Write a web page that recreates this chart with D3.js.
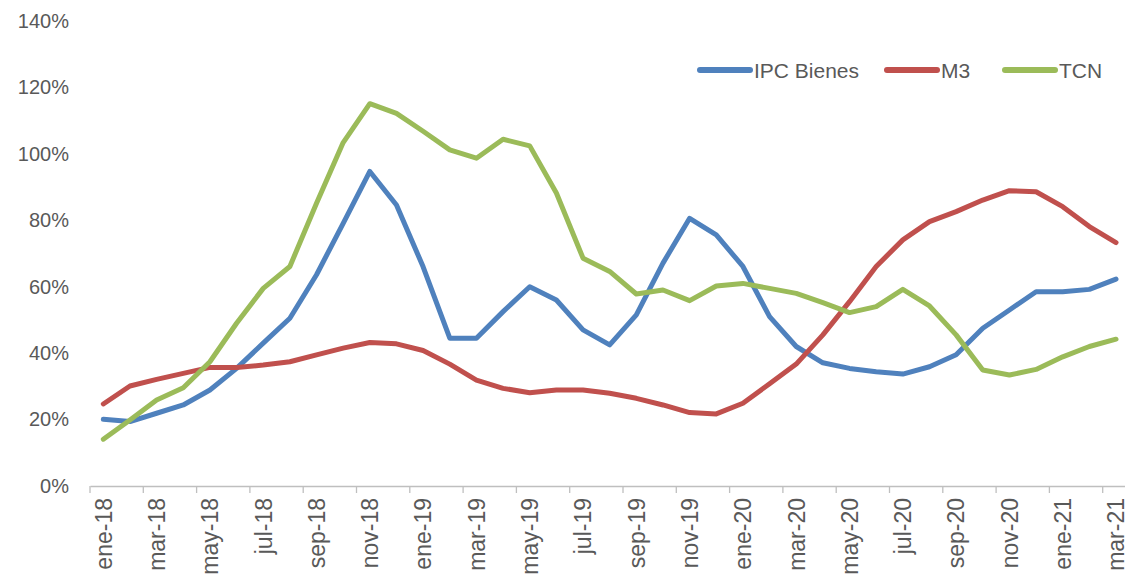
<!DOCTYPE html>
<head>
<meta charset="utf-8">
</head>
<style>
body { margin: 0; background: #fff; }
.axis text { fill: #595959; font-family: "Liberation Sans", Arial, sans-serif; }
.axis--y .domain { display: none; }
.axis--x .domain, .axis--x line { stroke: #bfbfbf; stroke-width: 1.3; }
.line { fill: none; stroke-width: 5; stroke-linejoin: round; stroke-linecap: round; }
.legend text { fill: #595959; font-family: "Liberation Sans", Arial, sans-serif; font-size: 21px; }
</style>
<body>
<svg id="chart" width="1125" height="580"></svg>

<script src="https://cdnjs.cloudflare.com/ajax/libs/d3/7.8.5/d3.min.js"></script>
<script>

var months = ["ene-18","feb-18","mar-18","abr-18","may-18","jun-18","jul-18","ago-18","sep-18","oct-18","nov-18","dic-18",
              "ene-19","feb-19","mar-19","abr-19","may-19","jun-19","jul-19","ago-19","sep-19","oct-19","nov-19","dic-19",
              "ene-20","feb-20","mar-20","abr-20","may-20","jun-20","jul-20","ago-20","sep-20","oct-20","nov-20","dic-20",
              "ene-21","feb-21","mar-21"];

// interanual, en %
var ipcBienes = [20.1, 19.4, 21.9, 24.4, 28.9, 35.4, 43.0, 50.5, 63.6, 79.1, 94.7, 84.6,
                 66.0, 44.5, 44.5, 52.5, 60.0, 56.0, 47.0, 42.5, 51.5, 67.1, 80.6, 75.6,
                 66.1, 51.0, 42.0, 37.1, 35.4, 34.4, 33.7, 35.9, 39.5, 47.5, 53.0, 58.5,
                 58.5, 59.2, 62.3];
var m3 = [24.7, 30.1, 32.1, 33.9, 35.7, 35.7, 36.4, 37.4, 39.5, 41.5, 43.2, 42.8,
          40.8, 36.7, 31.9, 29.4, 28.1, 28.9, 28.9, 27.9, 26.4, 24.4, 22.1, 21.7,
          24.9, 30.8, 36.7, 45.5, 55.5, 66.1, 74.1, 79.6, 82.6, 86.1, 88.9, 88.6,
          84.1, 78.1, 73.3];
var tcn = [14.1, 19.9, 25.9, 29.6, 37.4, 49.0, 59.5, 66.1, 85.1, 103.4, 115.1, 112.2,
           106.8, 101.2, 98.7, 104.4, 102.4, 88.2, 68.6, 64.6, 57.8, 59.0, 55.8, 60.2,
           61.0, 59.5, 58.0, 55.2, 52.2, 54.0, 59.2, 54.2, 45.5, 34.9, 33.4, 35.1,
           38.9, 42.0, 44.2];

var yTicks = [0, 20, 40, 60, 80, 100, 120, 140];

var series = [
  {name: "IPC Bienes", values: ipcBienes, color: "#4f81bd"},
  {name: "M3", values: m3, color: "#c0504d"},
  {name: "TCN", values: tcn, color: "#9bbb59"}
];

var svg = d3.select("#chart");

var x = d3.scaleBand().domain(months).range([90, 90 + 39 * 26.65]).padding(0),
    y = d3.scaleLinear().domain([0, 140]).range([486, 21]);
var bw = x.bandwidth();

// eje y
svg.append("g")
    .attr("class", "axis axis--y")
    .attr("transform", "translate(69,0)")
    .call(d3.axisLeft(y).tickValues(yTicks).tickSize(0).tickPadding(0)
      .tickFormat(function(d) { return d + "%"; }))
    .selectAll("text")
      .style("font-size", "20px");

// eje x
var labelMonths = months.filter(function(d, i) { return i % 2 == 0; });
var gx = svg.append("g")
    .attr("class", "axis axis--x")
    .attr("transform", "translate(0," + y(0) + ")")
    .call(d3.axisBottom(x).tickValues(labelMonths).tickSize(7).tickSizeOuter(0));

gx.selectAll(".tick line")
    .attr("x1", -bw / 2)
    .attr("x2", -bw / 2);

gx.selectAll(".tick text")
    .attr("transform", "rotate(-90)")
    .attr("text-anchor", "end")
    .attr("x", -12)
    .attr("y", 0)
    .attr("dy", "0.36em")
    .style("font-size", "23px");

// lineas
var line = d3.line()
    .x(function(d, i) { return x(months[i]) + bw / 2; })
    .y(function(d) { return y(d); });

svg.selectAll(".line")
  .data(series)
  .enter().append("path")
    .attr("class", "line")
    .attr("stroke", function(d) { return d.color; })
    .attr("d", function(d) { return line(d.values); });

// leyenda
var legendX = [698, 885, 1003];
var legend = svg.selectAll(".legend")
  .data(series)
  .enter().append("g")
    .attr("class", "legend")
    .attr("transform", function(d, i) { return "translate(" + legendX[i] + ",70)"; });

legend.append("line")
    .attr("x1", 2).attr("x2", 52)
    .attr("stroke", function(d) { return d.color; })
    .attr("stroke-width", 6)
    .attr("stroke-linecap", "round");

legend.append("text")
    .attr("x", 56)
    .attr("dy", "0.36em")
    .text(function(d) { return d.name; });

</script>
</body>
